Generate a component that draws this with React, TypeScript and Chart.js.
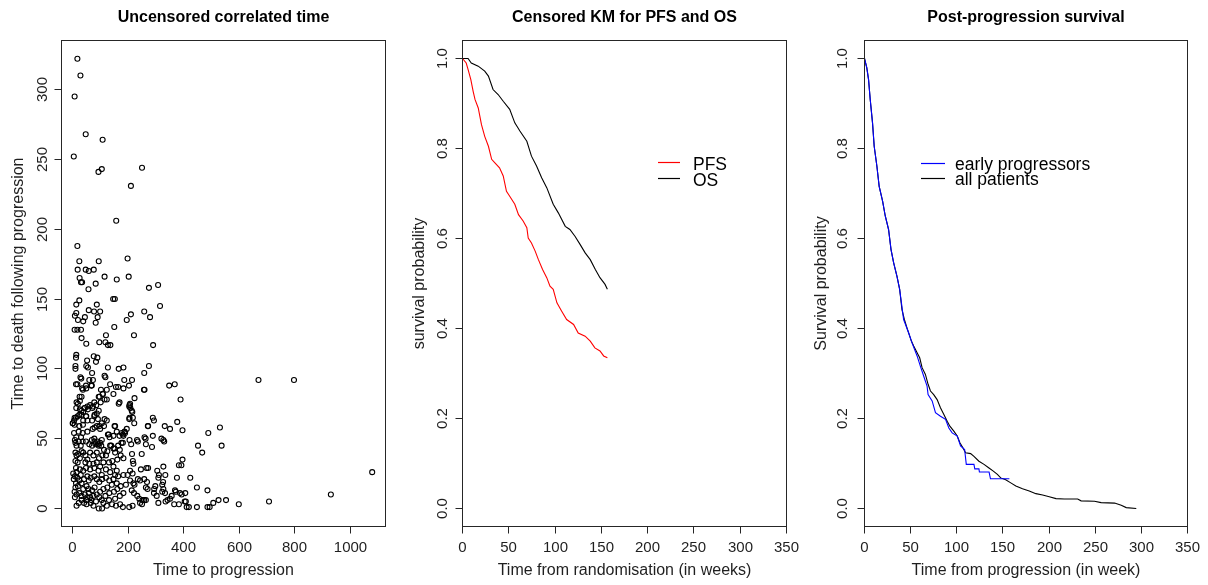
import React, { useEffect, useRef } from 'react';
import { Chart, registerables } from 'chart.js';

Chart.register(...registerables);

const FONT = '"Liberation Sans", Arial, Helvetica, sans-serif';

// ---------- Panel 1: uncensored correlated time (scatter) ----------
const timeToProgression: number[] = [
  17, 28, 7, 47, 108, 4, 93, 105, 250, 210,
  157, 17, 24, 94, 198, 18, 47, 58, 76, 25,
  30, 34, 83, 115, 159, 202, 57, 275, 308, 24,
  13, 58, 87, 99, 77, 13, 8, 19, 44, 38,
  83, 90, 146, 152, 258, 315, 279, 210, 150, 195,
  7, 17, 30, 32, 49, 96, 118, 127, 136, 120,
  221, 290, 13, 12, 76, 89, 84, 52, 49, 55,
  70, 10, 10, 60, 12, 17, 34, 28, 69, 48,
  37, 127, 166, 183, 118, 135, 102, 123, 108, 115,
  123, 94, 147, 156, 164, 183, 186, 214, 203, 258,
  275, 257, 348, 368, 670, 798, 389, 223, 207, 204,
  215, 166, 153, 204, 222, 272, 293, 377, 332, 351,
  531, 396, 489, 537, 452, 467, 320, 327, 330, 263,
  286, 264, 232, 214, 249, 217, 219, 396, 383, 392,
  376, 266, 272, 246, 305, 327, 334, 311, 309, 326,
  323, 424, 448, 486, 1080, 931, 708, 599, 553, 526,
  507, 494, 486, 448, 419, 411, 408, 387, 393, 406,
  372, 369, 357, 351, 342, 335, 309, 366, 383, 404,
  294, 298, 327, 333, 323, 293, 303, 264, 270, 258,
  268, 235, 243, 219, 223, 207, 192, 216, 198, 207,
  183, 213, 221, 233, 240, 252, 258, 264, 243, 250,
  216, 204, 181, 156, 171, 142, 123, 106, 94, 111,
  131, 5, 13, 8, 10, 14, 22, 30, 36, 29,
  10, 14, 20, 26, 32, 10, 18, 38, 46, 53,
  48, 60, 69, 78, 89, 99, 105, 82, 94, 70,
  113, 107, 120, 125, 135, 147, 153, 164, 170, 176,
  183, 189, 177, 183, 173, 161, 143, 131, 147, 111,
  99, 87, 75, 60, 48, 38, 26, 14, 2, 8,
  17, 29, 24, 32, 12, 19, 10, 7, 14, 24,
  38, 50, 58, 65, 78, 87, 96, 106, 120, 132,
  147, 159, 141, 125, 111, 99, 87, 75, 63, 50,
  41, 32, 22, 14, 50, 65, 75, 84, 96, 105,
  118, 132, 149, 161, 173, 183, 170, 153, 58, 70,
  79, 53, 41, 46, 63, 75, 87, 95, 78, 93,
  105, 120, 135, 159, 164, 153, 8, 4, 12, 63,
  57, 44, 32, 53, 67, 5, 0, 7, 12, 18,
  24, 32, 44, 53, 63, 26, 38, 48, 14, 26,
  32, 24, 38, 53, 70, 78, 87, 94, 101, 78,
  71, 87, 72, 53, 36, 22, 99, 113, 123, 115,
  105, 130, 147, 159, 195, 31, 49, 67, 73, 115,
  25, 19, 13, 43, 55, 73, 85, 97, 109, 31,
  49, 7, 1, 37, 79, 91, 79, 97, 151, 169,
  187, 181, 205, 208, 213, 259, 217, 271, 289, 205,
  127, 133, 169, 181, 205, 211, 235, 259, 289, 139,
  151, 79, 91, 103,
];

const timeToDeathAfterProgression: number[] = [
  322, 310, 295, 268, 264, 252, 241, 243, 244, 231,
  206, 188, 177, 177, 179, 171, 171, 170, 171, 165,
  162, 162, 161, 166, 164, 166, 157, 158, 160, 149,
  146, 142, 146, 141, 141, 140, 138, 135, 137, 134,
  133, 137, 150, 150, 141, 145, 137, 139, 130, 135,
  128, 128, 128, 122, 118, 119, 119, 117, 117, 124,
  124, 117, 110, 108, 109, 108, 105, 106, 102, 101,
  97, 102, 100, 92, 89, 89, 86, 94, 88, 88,
  85, 101, 100, 101, 94, 89, 85, 85, 82, 78,
  78, 80, 82, 87, 87, 86, 92, 92, 88, 97,
  102, 85, 88, 89, 92, 92, 78, 79, 75, 73,
  69, 75, 59, 64, 61, 59, 63, 62, 59, 57,
  58, 56, 54, 45, 45, 40, 50, 49, 48, 50,
  44, 46, 49, 39, 39, 34, 32, 35, 31, 31,
  22, 29, 29, 28, 27, 30, 24, 24, 22, 19,
  17, 22, 15, 13, 26, 10, 5, 3, 6, 6,
  4, 1, 1, 1, 1, 1, 5, 11, 10, 11,
  12, 13, 9, 7, 6, 5, 4, 3, 3, 5,
  14, 16, 14, 11, 12, 11, 9, 15, 14, 21,
  19, 21, 20, 18, 17, 20, 17, 25, 24, 27,
  24, 13, 11, 9, 7, 6, 6, 6, 4, 3,
  2, 1, 1, 2, 3, 3, 2, 0, 0, 4,
  6, 54, 51, 49, 47, 45, 48, 51, 48, 45,
  40, 38, 39, 36, 41, 34, 33, 40, 38, 35,
  48, 46, 49, 50, 48, 47, 49, 46, 45, 45,
  42, 38, 38, 41, 45, 43, 40, 45, 42, 47,
  52, 54, 54, 36, 38, 35, 34, 33, 30, 33,
  30, 33, 32, 32, 29, 27, 28, 26, 25, 23,
  22, 24, 20, 18, 18, 16, 15, 12, 10, 11,
  14, 16, 20, 22, 23, 21, 19, 21, 22, 20,
  21, 18, 17, 15, 14, 12, 10, 9, 8, 6,
  4, 6, 4, 2, 3, 4, 2, 5, 8, 6,
  9, 11, 12, 14, 16, 11, 9, 7, 11, 13,
  15, 23, 21, 33, 40, 38, 40, 36, 29, 27,
  24, 28, 26, 27, 23, 24, 8, 21, 29, 28,
  14, 10, 9, 8, 6, 63, 61, 60, 65, 66,
  67, 70, 72, 73, 74, 71, 69, 66, 76, 77,
  80, 59, 63, 63, 63, 66, 68, 70, 76, 76,
  72, 59, 57, 55, 54, 55, 57, 59, 63, 64,
  61, 53, 52, 55, 57, 93, 86, 88, 92, 95,
  80, 75, 72, 72, 71, 73, 74, 80, 82, 67,
  66, 65, 61, 60, 67, 64, 58, 59, 59, 76,
  55, 53, 74, 72, 70, 85, 65, 59, 65, 65,
  53, 51, 52, 47, 49, 46, 48, 51, 52, 45,
  43, 48, 46, 45,
];

const scatterXTicks = [0, 200, 400, 600, 800, 1000];
const scatterYTicks = [0, 50, 100, 150, 200, 250, 300];

// ---------- Panel 2: censored KM for PFS and OS ----------
const pfsWeeks = [0, 4, 6, 9, 11.5, 13.5, 17, 20.5, 24, 28, 31.5, 35, 40, 44, 47.5, 51, 56.5, 60.5, 65.5, 69.5, 71, 74.5, 78.5, 82, 86.5, 91, 94.5, 98, 102, 107, 112.5, 120, 125, 132.5, 138, 143, 148.5, 152.5, 156.5];
const pfsSurvival = [1, 0.99, 0.976, 0.953, 0.927, 0.909, 0.89, 0.853, 0.827, 0.805, 0.776, 0.768, 0.757, 0.739, 0.705, 0.694, 0.676, 0.653, 0.639, 0.624, 0.601, 0.59, 0.572, 0.553, 0.531, 0.513, 0.494, 0.487, 0.457, 0.439, 0.42, 0.409, 0.39, 0.383, 0.372, 0.357, 0.35, 0.339, 0.335];
const osWeeks = [0, 6, 9.5, 17, 24, 28, 33, 38.5, 44, 51, 56.5, 62, 69.5, 74.5, 80, 85.5, 91, 98, 103.5, 111, 116, 121.5, 127, 132.5, 138, 143.5, 148.5, 154, 156.5];
const osSurvival = [1, 1, 0.99, 0.983, 0.972, 0.961, 0.931, 0.92, 0.905, 0.887, 0.857, 0.839, 0.816, 0.783, 0.761, 0.735, 0.713, 0.676, 0.657, 0.627, 0.62, 0.605, 0.587, 0.568, 0.553, 0.531, 0.513, 0.498, 0.487];

// ---------- Panel 3: post-progression survival ----------
const ppsAllWeeks = [0, 2.5, 4.4, 6.2, 8.7, 10.5, 13.4, 15.9, 19.6, 22.5, 26.1, 28.7, 31.6, 35.2, 38.1, 40.6, 43.2, 46.1, 49, 50.8, 53.3, 57, 59.8, 62.4, 66, 68.9, 71.5, 75, 78.7, 82.3, 86, 89.6, 92.5, 96.8, 100.5, 103.4, 106.6, 109.5, 115, 118.6, 124, 129.5, 134.9, 139.6, 144, 147.6, 153, 158.5, 164, 171.2, 178.5, 185.7, 193, 200.2, 207.5, 216.5, 231, 234.7, 249.2, 256.4, 271, 278.2, 283.6, 294.5];
const ppsAllSurvival = [1, 0.979, 0.953, 0.909, 0.857, 0.805, 0.761, 0.716, 0.683, 0.65, 0.62, 0.576, 0.546, 0.516, 0.487, 0.442, 0.42, 0.401, 0.383, 0.372, 0.361, 0.346, 0.335, 0.313, 0.298, 0.276, 0.261, 0.253, 0.242, 0.224, 0.209, 0.194, 0.183, 0.172, 0.161, 0.146, 0.135, 0.124, 0.122, 0.116, 0.105, 0.098, 0.09, 0.083, 0.076, 0.068, 0.064, 0.057, 0.05, 0.044, 0.039, 0.033, 0.03, 0.026, 0.022, 0.021, 0.021, 0.017, 0.016, 0.013, 0.012, 0.007, 0.002, 0];
const ppsEarlyWeeks = [0, 2.5, 4.4, 6.2, 8.7, 10.5, 13.4, 15.9, 19.6, 22.5, 26.1, 28.7, 31.6, 35.2, 38.1, 42.4, 47.9, 51.5, 57, 60.6, 64.2, 67.8, 68.9, 73.3, 76.9, 82.3, 87.8, 91.4, 95, 100.5, 104.1, 108.5, 110.3, 118.6, 119.5, 124, 124.5, 135, 136.5, 157];
const ppsEarlySurvival = [1, 0.979, 0.953, 0.909, 0.857, 0.805, 0.761, 0.716, 0.683, 0.65, 0.62, 0.576, 0.546, 0.516, 0.487, 0.42, 0.39, 0.368, 0.339, 0.316, 0.294, 0.272, 0.253, 0.239, 0.213, 0.205, 0.198, 0.179, 0.168, 0.161, 0.139, 0.131, 0.098, 0.098, 0.088, 0.088, 0.081, 0.081, 0.066, 0.066];

const kmXTicks = [0, 50, 100, 150, 200, 250, 300, 350];
const kmYTicks = [0, 0.2, 0.4, 0.6, 0.8, 1.0];

const toPoints = (xs: number[], ys: number[]) => xs.map((x, i) => ({ x, y: ys[i] }));

type LegendItem = { label: string; stroke: string; x1: number; x2: number; y: number; tx: number; ty: number };
type AxesCfg = {
  title: string;
  xTitle: string;
  yTitle: string;
  xTicks: number[];
  yTicks: number[];
  xFmt: (v: number) => string;
  yFmt: (v: number) => string;
  yLabelOff: number;
  legend?: LegendItem[];
};

// ---------- R-style axes/box/titles/legend plugin (closure, no option proxies) ----------
const makeRAxes = (o: AxesCfg) => ({
  id: 'rAxes',
  afterDraw(chart: any) {
    const { ctx, chartArea: a } = chart;
    const xs = chart.scales.x;
    const ys = chart.scales.y;
    ctx.save();
    ctx.strokeStyle = '#262626';
    ctx.lineWidth = 1;
    ctx.strokeRect(a.left, a.top, a.right - a.left, a.bottom - a.top);

    ctx.fillStyle = '#1f1f1f';
    ctx.textAlign = 'center';
    ctx.textBaseline = 'alphabetic';
    ctx.font = `15px ${FONT}`;

    const xp = o.xTicks.map((v) => Math.round(xs.getPixelForValue(v) - 0.5) + 0.5);
    ctx.beginPath();
    ctx.moveTo(xp[0], a.bottom);
    ctx.lineTo(xp[xp.length - 1], a.bottom);
    xp.forEach((p) => {
      ctx.moveTo(p, a.bottom);
      ctx.lineTo(p, a.bottom + 7);
    });
    ctx.stroke();
    o.xTicks.forEach((v, i) => ctx.fillText(o.xFmt(v), xp[i], a.bottom + 25.2));

    const yp = o.yTicks.map((v) => Math.round(ys.getPixelForValue(v) - 0.5) + 0.5);
    ctx.beginPath();
    ctx.moveTo(a.left, yp[0]);
    ctx.lineTo(a.left, yp[yp.length - 1]);
    yp.forEach((p) => {
      ctx.moveTo(a.left, p);
      ctx.lineTo(a.left - 7, p);
    });
    ctx.stroke();
    o.yTicks.forEach((v, i) => {
      ctx.save();
      ctx.translate(a.left - o.yLabelOff, yp[i]);
      ctx.rotate(-Math.PI / 2);
      ctx.fillText(o.yFmt(v), 0, 0);
      ctx.restore();
    });

    const cx = (a.left + a.right) / 2;
    const cy = (a.top + a.bottom) / 2;
    ctx.font = `16px ${FONT}`;
    ctx.fillText(o.xTitle, cx, a.bottom + 48.5);
    ctx.save();
    ctx.translate(a.left - 38.8, cy);
    ctx.rotate(-Math.PI / 2);
    ctx.fillText(o.yTitle, 0, 0);
    ctx.restore();

    ctx.fillStyle = '#000';
    ctx.font = `bold 16px ${FONT}`;
    ctx.fillText(o.title, cx, 22.3);

    if (o.legend) {
      ctx.font = `17.5px ${FONT}`;
      ctx.textAlign = 'left';
      ctx.lineWidth = 1.2;
      o.legend.forEach((it) => {
        ctx.strokeStyle = it.stroke;
        ctx.beginPath();
        ctx.moveTo(it.x1, it.y);
        ctx.lineTo(it.x2, it.y);
        ctx.stroke();
        ctx.fillStyle = '#000';
        ctx.fillText(it.label, it.tx, it.ty);
      });
    }
    ctx.restore();
  },
});

const baseOptions = (pad: any, xr: number[], yr: number[]) => ({
  responsive: false,
  maintainAspectRatio: false,
  animation: false as const,
  devicePixelRatio: 1,
  layout: { padding: pad },
  events: [] as any[],
  scales: {
    x: { type: 'linear' as const, min: xr[0], max: xr[1], display: false },
    y: { type: 'linear' as const, min: yr[0], max: yr[1], display: false },
  },
  plugins: {
    legend: { display: false },
    title: { display: false },
    tooltip: { enabled: false },
  },
});

const fmtInt = (v: number) => String(v);
const fmt1 = (v: number) => v.toFixed(1);

const scatterConfig = (): any => ({
  type: 'scatter',
  data: {
    datasets: [
      {
        data: toPoints(timeToProgression, timeToDeathAfterProgression),
        pointStyle: 'circle',
        pointRadius: 2.5,
        borderWidth: 1.1,
        borderColor: '#000',
        backgroundColor: 'rgba(0,0,0,0)',
        pointBorderColor: '#000',
        pointBackgroundColor: 'rgba(0,0,0,0)',
      },
    ],
  },
  options: baseOptions({ left: 61.5, right: 17.5, top: 40.5, bottom: 58.5 }, [-40.3, 1128], [-12.9, 335.1]),
  plugins: [
    makeRAxes({
      title: 'Uncensored correlated time',
      xTitle: 'Time to progression',
      yTitle: 'Time to death following progression',
      xTicks: scatterXTicks,
      yTicks: scatterYTicks,
      xFmt: fmtInt,
      yFmt: fmtInt,
      yLabelOff: 15,
    }),
  ],
});

const lineDs = (xs: number[], ys: number[], color: string) => ({
  data: toPoints(xs, ys),
  borderColor: color,
  backgroundColor: color,
  borderWidth: 1.1,
  pointRadius: 0,
  tension: 0,
  fill: false,
});

const kmConfig = (): any => ({
  type: 'line',
  data: {
    datasets: [lineDs(pfsWeeks, pfsSurvival, '#ff0000'), lineDs(osWeeks, osSurvival, '#000000')],
  },
  options: baseOptions({ left: 59.5, right: 18.5, top: 40.5, bottom: 58.5 }, [0, 350], [-0.04, 1.04]),
  plugins: [
    makeRAxes({
      title: 'Censored KM for PFS and OS',
      xTitle: 'Time from randomisation (in weeks)',
      yTitle: 'survival probability',
      xTicks: kmXTicks,
      yTicks: kmYTicks,
      xFmt: fmtInt,
      yFmt: fmt1,
      yLabelOff: 16,
      legend: [
        { label: 'PFS', stroke: '#ff0000', x1: 255, x2: 277, y: 162.5, tx: 290, ty: 170 },
        { label: 'OS', stroke: '#000000', x1: 255, x2: 277, y: 178.5, tx: 290, ty: 185.5 },
      ],
    }),
  ],
});

const ppsConfig = (): any => ({
  type: 'line',
  data: {
    datasets: [lineDs(ppsEarlyWeeks, ppsEarlySurvival, '#0000ff'), lineDs(ppsAllWeeks, ppsAllSurvival, '#000000')],
  },
  options: baseOptions({ left: 59.5, right: 20.5, top: 40.5, bottom: 58.5 }, [0, 350], [-0.04, 1.04]),
  plugins: [
    makeRAxes({
      title: 'Post-progression survival',
      xTitle: 'Time from progression (in week)',
      yTitle: 'Survival probability',
      xTicks: kmXTicks,
      yTicks: kmYTicks,
      xFmt: fmtInt,
      yFmt: fmt1,
      yLabelOff: 17.5,
      legend: [
        { label: 'early progressors', stroke: '#0000ff', x1: 116, x2: 140, y: 163.5, tx: 150, ty: 170 },
        { label: 'all patients', stroke: '#000000', x1: 116, x2: 140, y: 178.5, tx: 150, ty: 184.5 },
      ],
    }),
  ],
});

function Panel({ left, width, makeConfig }: { left: number; width: number; makeConfig: () => any }) {
  const ref = useRef<HTMLCanvasElement>(null);
  useEffect(() => {
    const chart = new Chart(ref.current as HTMLCanvasElement, makeConfig());
    return () => chart.destroy();
  }, [makeConfig]);
  return (
    <canvas
      ref={ref}
      width={width}
      height={585}
      style={{ position: 'absolute', left, top: 0, width, height: 585 }}
    />
  );
}

export default function App() {
  return (
    <div style={{ position: 'fixed', left: 0, top: 0, width: 1208, height: 585, background: '#fff', overflow: 'hidden' }}>
      <Panel left={0} width={403} makeConfig={scatterConfig} />
      <Panel left={403} width={402} makeConfig={kmConfig} />
      <Panel left={805} width={403} makeConfig={ppsConfig} />
    </div>
  );
}
